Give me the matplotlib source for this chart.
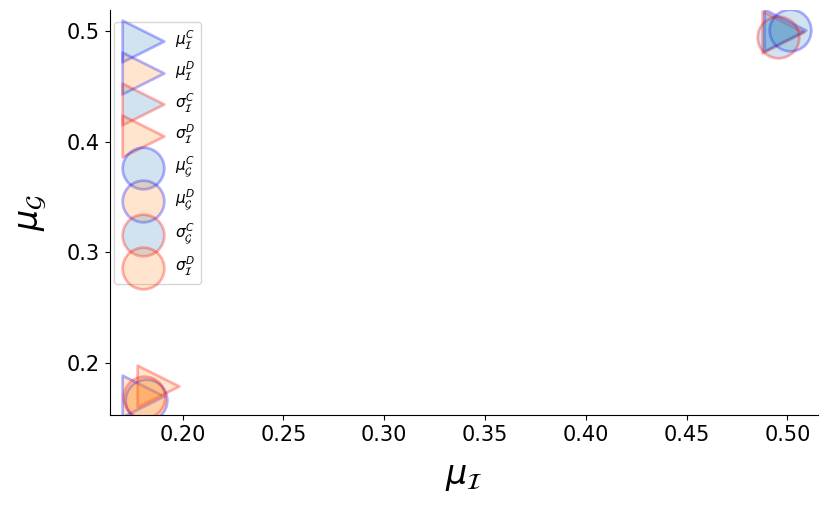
import numpy as np
import matplotlib
matplotlib.use("Agg")
from matplotlib import pyplot as plt
from matplotlib.colors import to_rgba

# one point per series
labels = [r'$\mu_{\mathcal{I}}^C$', r'$\mu_{\mathcal{I}}^D$',
          r'$\sigma_{\mathcal{I}}^C$', r'$\sigma_{\mathcal{I}}^D$',
          r'$\mu_{\mathcal{G}}^C$', r'$\mu_{\mathcal{G}}^D$',
          r'$\sigma_{\mathcal{G}}^C$', r'$\sigma_{\mathcal{I}}^D$']
xs = [0.4990, 0.1802, 0.4980, 0.1876, 0.5015, 0.1817, 0.4955, 0.1807]
ys = [0.5009, 0.1702, 0.4991, 0.1792, 0.5015, 0.1666, 0.4950, 0.1693]
markers = ['>', '>', '>', '>', 'o', 'o', 'o', 'o']
faces = ['C0', 'C1', 'C0', 'C1', 'C0', 'C1', 'C0', 'C1']
edges = ['blue', 'blue', 'red', 'red', 'blue', 'blue', 'red', 'red']

fig = plt.figure(figsize=(8.31, 5.09), dpi=100)
ax = fig.add_axes([0.132, 0.185, 0.852, 0.795])

for i in range(len(labels)):
    ax.scatter(xs[i], ys[i], s=900, marker=markers[i],
               facecolors=[to_rgba(faces[i], 0.2)],
               edgecolors=[to_rgba(edges[i], 0.3)], linewidths=2,
               label=labels[i])

ax.set_xlim(0.1638, 0.515)
ax.set_ylim(0.153, 0.519)
ax.set_xticks([0.20, 0.25, 0.30, 0.35, 0.40, 0.45, 0.50])
ax.set_yticks([0.2, 0.3, 0.4, 0.5])
ax.tick_params(labelsize=15)
ax.set_xlabel(r'$\mu_{\mathcal{I}}$', fontsize=24, labelpad=11)
ax.set_ylabel(r'$\mu_{\mathcal{G}}$', fontsize=24, labelpad=13)
ax.spines['top'].set_visible(False)
ax.spines['right'].set_visible(False)

ax.legend(loc='upper left', bbox_to_anchor=(0.006, 0.97), borderaxespad=0,
          fontsize=11, scatterpoints=1, labelspacing=0.55, handlelength=3,
          handletextpad=0.6)

fig.savefig('out.png', dpi=100)
